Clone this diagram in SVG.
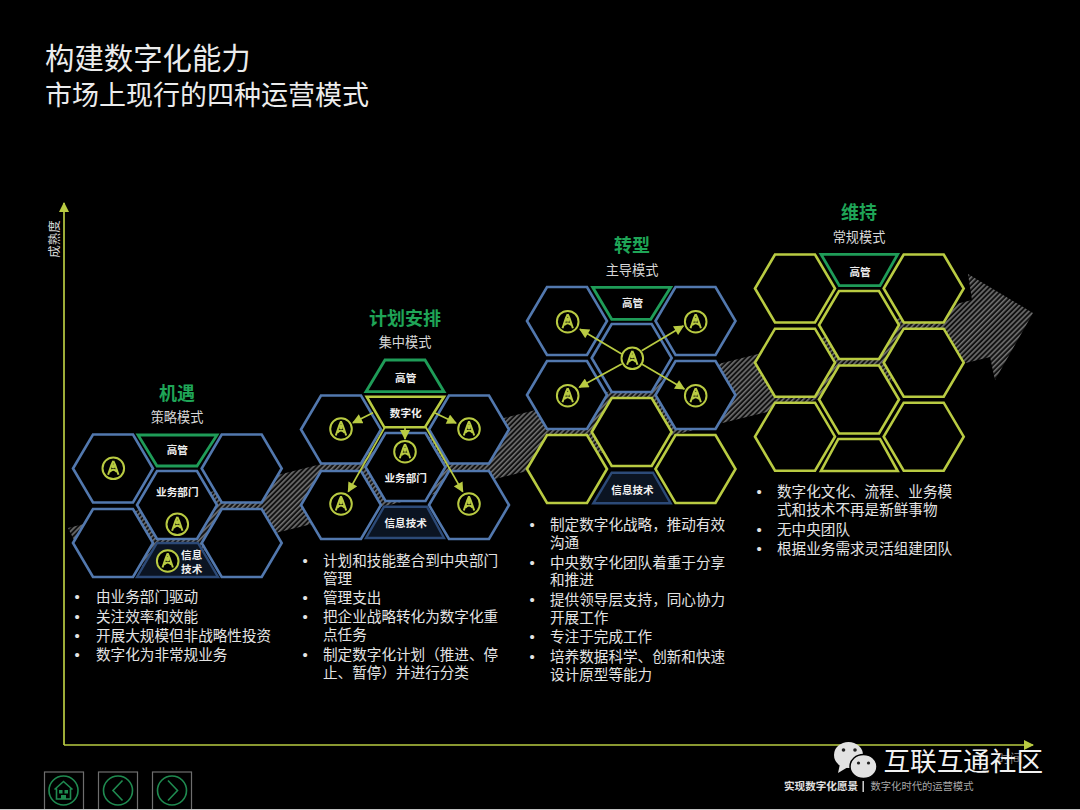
<svg xmlns="http://www.w3.org/2000/svg" xmlns:xlink="http://www.w3.org/1999/xlink" width="1080" height="810" viewBox="0 0 1080 810">
<style>
text{font-family:"Noto Sans CJK SC","Liberation Sans",sans-serif}
.b{fill:#000;stroke:#5278ae;stroke-width:2.6}
.y{fill:#000;stroke:#b9cb42;stroke-width:2.6}
.g{fill:#000;stroke:#1f9c58;stroke-width:2.8}
.d{fill:#0b1422;stroke:#2c4a78;stroke-width:2.4}
.t{fill:#e4e4e4;font-size:14.6px}
.p{fill:#e4e4e4;font-size:15px;font-family:"Liberation Sans",sans-serif}
.h{fill:#1fa557;font-size:18px;font-weight:700;text-anchor:middle}
.s{fill:#d8d8d8;font-size:13.2px;text-anchor:middle}
.l{fill:#f0f0f0;font-size:10.6px;font-weight:700;text-anchor:middle}
.c{fill:none;stroke:#b9cb42;stroke-width:1.7}
.nav{fill:#000;stroke:#6e6e6e;stroke-width:1.2}
.nc{fill:none;stroke:#1f8a50;stroke-width:1.6}
</style>
<defs>
<pattern id="hatch" width="3.6" height="3.6" patternUnits="userSpaceOnUse" patternTransform="rotate(-45)">
<rect width="3.6" height="3.6" fill="#111"/><rect width="3.6" height="1.6" fill="#707070"/>
</pattern>
<polygon id="hex" points="-40,0 -20,-34 20,-34 40,0 20,34 -20,34"/>
<marker id="ah" viewBox="0 0 10 10" refX="9" refY="5" markerWidth="11" markerHeight="10" markerUnits="userSpaceOnUse" orient="auto"><path d="M0,0L10,5L0,10Z" fill="#b9cb42"/></marker>
<g id="ico">
<circle r="10.8" fill="#000" stroke="#b9cb42" stroke-width="2"/>
<path d="M0,-7.5L-1.8,-3.5L-5.2,6.5M0,-7.5L1.8,-3.5L5.2,6.5M-3.6,3.5Q0,-0.5 3.6,3.5" fill="none" stroke="#b9cb42" stroke-width="2"/>
<path d="M-2,-4H2L1.5,0H-1.5Z" fill="#b9cb42"/>
</g>
</defs>
<rect width="1080" height="810" fill="#000"/>

<g id="title">
<text x="45" y="69" fill="#ececec" font-size="29.4px">构建数字化能力</text>
<text x="45" y="105" fill="#ececec" font-size="27px">市场上现行的四种运营模式</text>
</g>

<polygon id="trend-arrow" points="68,528 93,578 990,357 995,380 1033,313 968,274 972,300" fill="url(#hatch)"/>

<g id="connectors">
<path class="c" d="M64,745V203" marker-end="url(#ah)"/>
<path class="c" d="M64,745H1033" marker-end="url(#ah)"/>
</g>
<text id="y-label" transform="translate(59,239) rotate(-90)" fill="#d8d8d8" font-size="12.5px" text-anchor="middle">成熟度</text>
<text id="x-label" x="1010" y="763" fill="#777" font-size="12.5px" text-anchor="middle">时间</text>

<g id="c1">
<text class="h" x="177" y="400">机遇</text>
<text class="s" x="177" y="422">策略模式</text>
<use href="#hex" class="b" x="113" y="468.5"/>
<use href="#hex" class="b" x="241.7" y="468.5"/>
<use href="#hex" class="b" x="113" y="543"/>
<use href="#hex" class="b" x="241.7" y="543"/>
<use href="#hex" class="b" x="177" y="505"/>
<polygon class="g" points="138,435 217,435 197,466 157,466"/>
<polygon class="d" points="157,543 198,543 218,577 137,577"/>
<text class="l" x="177.3" y="454">高管</text>
<text class="l" x="177.3" y="496">业务部门</text>
<text class="l" x="191.7" y="559">信息</text>
<text class="l" x="191.7" y="573">技术</text>
<use href="#ico" x="113.3" y="468.3"/>
<use href="#ico" x="177.3" y="524.3"/>
<use href="#ico" x="167.7" y="561"/>
<text class="p" x="74.5" y="602">•</text><text class="t" x="96" y="602">由业务部门驱动</text>
<text class="p" x="74.5" y="622">•</text><text class="t" x="96" y="622">关注效率和效能</text>
<text class="p" x="74.5" y="641">•</text><text class="t" x="96" y="641">开展大规模但非战略性投资</text>
<text class="p" x="74.5" y="660">•</text><text class="t" x="96" y="660">数字化为非常规业务</text>
</g>

<g id="c2">
<text class="h" x="405" y="325">计划安排</text>
<text class="s" x="405" y="347">集中模式</text>
<use href="#hex" class="b" x="341" y="429.5"/>
<use href="#hex" class="b" x="469" y="429.5"/>
<use href="#hex" class="b" x="341" y="505"/>
<use href="#hex" class="b" x="469" y="505"/>
<use href="#hex" class="b" x="405.5" y="467"/>
<polygon class="g" points="385,360 425,360 444,391.7 366,391.7"/>
<polygon class="y" points="366.7,396.7 444,396.7 425,427.3 384.3,427.3"/>
<polygon class="d" points="384,506.7 427,506.7 444,538 366,538"/>
<text class="l" x="405.7" y="382">高管</text>
<text class="l" x="405.7" y="417">数字化</text>
<text class="l" x="405.7" y="482">业务部门</text>
<text class="l" x="405.7" y="527">信息技术</text>
<use href="#ico" x="341" y="429"/>
<use href="#ico" x="469" y="429"/>
<use href="#ico" x="341" y="504"/>
<use href="#ico" x="469" y="504"/>
<use href="#ico" x="405" y="451.7"/>
<path class="c" d="M373,412.7L353,422.7" marker-end="url(#ah)"/>
<path class="c" d="M435,413L456,423" marker-end="url(#ah)"/>
<path class="c" d="M405,427V439" marker-end="url(#ah)"/>
<path class="c" d="M385,427L348.3,491.7" marker-end="url(#ah)"/>
<path class="c" d="M425.7,427L462.7,491.7" marker-end="url(#ah)"/>
<text class="p" x="302.5" y="566">•</text><text class="t" x="323" y="566">计划和技能整合到中央部门</text>
<text class="t" x="323" y="584">管理</text>
<text class="p" x="302.5" y="603">•</text><text class="t" x="323" y="603">管理支出</text>
<text class="p" x="302.5" y="622">•</text><text class="t" x="323" y="622">把企业战略转化为数字化重</text>
<text class="t" x="323" y="640">点任务</text>
<text class="p" x="302.5" y="660">•</text><text class="t" x="323" y="660">制定数字化计划（推进、停</text>
<text class="t" x="323" y="678">止、暂停）并进行分类</text>
</g>

<g id="c3">
<text class="h" x="632" y="252">转型</text>
<text class="s" x="632" y="275">主导模式</text>
<use href="#hex" class="b" x="567" y="321"/>
<use href="#hex" class="b" x="695.5" y="321"/>
<use href="#hex" class="b" x="567" y="395"/>
<use href="#hex" class="b" x="695.5" y="395"/>
<use href="#hex" class="b" x="631.7" y="358"/>
<use href="#hex" class="y" x="567" y="469"/>
<use href="#hex" class="y" x="695.5" y="469"/>
<use href="#hex" class="y" x="631.7" y="432"/>
<polygon class="g" points="592.7,287.3 670.7,287.3 650.7,319.3 611.7,319.3"/>
<polygon class="d" points="611.7,472.7 653,472.7 670.7,503.3 593.3,503.3"/>
<text class="l" x="632.5" y="307">高管</text>
<text class="l" x="632.5" y="494">信息技术</text>
<use href="#ico" x="567.7" y="321.7"/>
<use href="#ico" x="695.7" y="321.7"/>
<use href="#ico" x="567.7" y="395.7"/>
<use href="#ico" x="695.7" y="395.7"/>
<use href="#ico" x="632.3" y="358.3"/>
<path class="c" d="M621.7,354L580,329.3" marker-end="url(#ah)"/>
<path class="c" d="M641.7,350.7L683.3,326" marker-end="url(#ah)"/>
<path class="c" d="M621.7,364L579.3,387.3" marker-end="url(#ah)"/>
<path class="c" d="M641.7,364L684.3,389" marker-end="url(#ah)"/>
<text class="p" x="529.5" y="530">•</text><text class="t" x="550" y="530">制定数字化战略，推动有效</text>
<text class="t" x="550" y="548">沟通</text>
<text class="p" x="529.5" y="568">•</text><text class="t" x="550" y="568">中央数字化团队着重于分享</text>
<text class="t" x="550" y="585">和推进</text>
<text class="p" x="529.5" y="605">•</text><text class="t" x="550" y="605">提供领导层支持，同心协力</text>
<text class="t" x="550" y="623">开展工作</text>
<text class="p" x="529.5" y="642">•</text><text class="t" x="550" y="642">专注于完成工作</text>
<text class="p" x="529.5" y="662">•</text><text class="t" x="550" y="662">培养数据科学、创新和快速</text>
<text class="t" x="550" y="680">设计原型等能力</text>
</g>

<g id="c4">
<text class="h" x="859" y="219">维持</text>
<text class="s" x="859" y="242">常规模式</text>
<use href="#hex" class="y" x="795" y="288.5"/>
<use href="#hex" class="y" x="923.7" y="288.5"/>
<use href="#hex" class="y" x="795" y="362.7"/>
<use href="#hex" class="y" x="923.7" y="362.7"/>
<use href="#hex" class="y" x="795" y="436.7"/>
<use href="#hex" class="y" x="923.7" y="436.7"/>
<use href="#hex" class="y" x="859" y="325"/>
<use href="#hex" class="y" x="859" y="399.5"/>
<polygon class="g" points="821,254.3 897.7,254.3 880,285.7 839.3,285.7"/>
<polygon class="y" points="838.3,439 880,439 897.7,471 821,471"/>
<text class="l" x="860" y="275.5">高管</text>
<text class="p" x="756.5" y="497">•</text><text class="t" x="777" y="497">数字化文化、流程、业务模</text>
<text class="t" x="777" y="515">式和技术不再是新鲜事物</text>
<text class="p" x="756.5" y="535">•</text><text class="t" x="777" y="535">无中央团队</text>
<text class="p" x="756.5" y="554">•</text><text class="t" x="777" y="554">根据业务需求灵活组建团队</text>
</g>

<g id="nav-home">
<rect class="nav" x="44.5" y="772" width="39" height="40"/>
<circle class="nc" cx="63.5" cy="790.5" r="14.5"/>
<path class="nc" d="M54.5,789.5L63.5,781.5L72.5,789.5M56.5,788.5V799H70.5V788.5"/>
<path d="M59,790h3.5v3.5H59zM64.5,790h3.5v3.5H64.5zM61,795h5v4H61z" fill="#1f8a50"/>
</g>
<g id="nav-prev">
<rect class="nav" x="98.5" y="772" width="39" height="40"/>
<circle class="nc" cx="118" cy="790.5" r="14.5"/>
<path class="nc" d="M122.5,780.5L113,790.5L122.5,800.5"/>
</g>
<g id="nav-next">
<rect class="nav" x="152.5" y="772" width="39" height="40"/>
<circle class="nc" cx="172" cy="790.5" r="14.5"/>
<path class="nc" d="M168,780.5L177.5,790.5L168,800.5"/>
</g>
<rect id="bottom-edge" y="809" width="1080" height="1" fill="#c8c8c8"/>

<g id="footer">
<text x="784" y="790" fill="#e0e0e0" font-size="10.6px" font-weight="700">实现数字化愿景</text>
<rect x="862.5" y="781" width="1.4" height="11" fill="#e0e0e0"/>
<text x="870.5" y="790" fill="#a8a8a8" font-size="10.3px">数字化时代的运营模式</text>
</g>

<g id="watermark">
<ellipse cx="848.5" cy="755" rx="14.5" ry="13" fill="#e2e2e2"/>
<path d="M840,764L838,773L848,767Z" fill="#e2e2e2"/>
<ellipse cx="863.5" cy="766.5" rx="13.5" ry="12" fill="#e2e2e2" stroke="#000" stroke-width="1.5"/>
<circle cx="843.5" cy="750" r="1.8" fill="#222"/><circle cx="855" cy="750" r="1.8" fill="#222"/>
<circle cx="858.5" cy="763" r="1.6" fill="#222"/><circle cx="868.5" cy="763" r="1.6" fill="#222"/>
<text x="883.5" y="771" fill="#f2f2f2" font-size="26.6px">互联互通社区</text>
</g>
</svg>
